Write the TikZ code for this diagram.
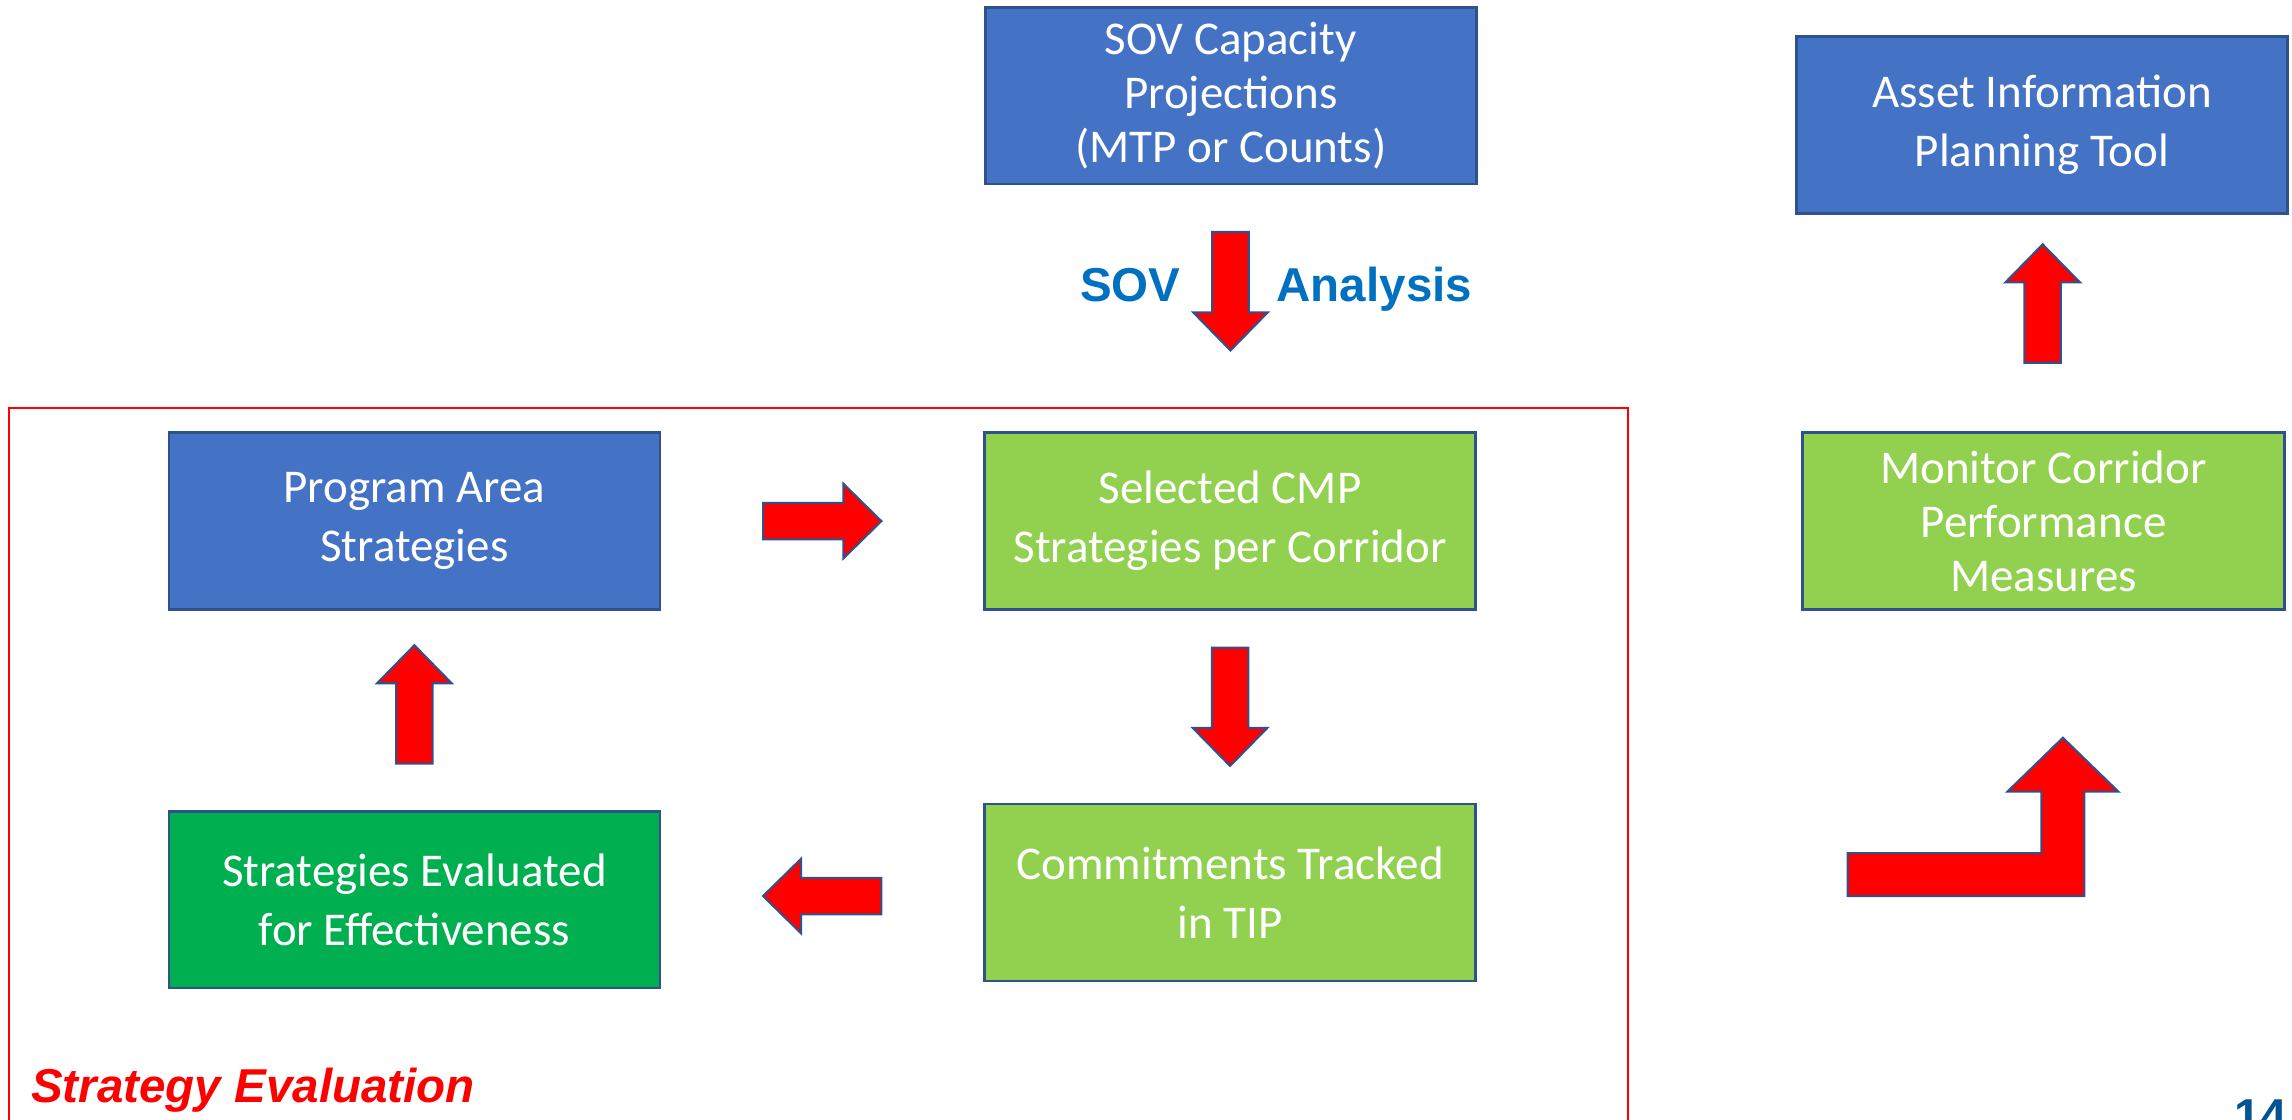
\documentclass[tikz,border=0pt]{standalone}
\usepackage{fontspec}
\setmainfont{Carlito}
\newfontfamily\arialfont{Liberation Sans}
\usepackage{tikz}
\usetikzlibrary{calc}

\definecolor{boxblue}{HTML}{4472C4}
\definecolor{boxline}{HTML}{2F528F}
\definecolor{lightgreen}{HTML}{92D050}
\definecolor{darkgreen}{HTML}{00B050}
\definecolor{lblblue}{HTML}{0070C0}
\definecolor{pageblue}{HTML}{005493}

\tikzset{
  stepbox/.style={draw=boxline,line width=1pt,text=white,align=center,
    minimum width=67.2mm,minimum height=24.2mm,inner sep=1mm,
    font=\fontsize{18.3}{23}\selectfont},
  bluebox/.style={stepbox,fill=boxblue},
  greenbox/.style={stepbox,fill=lightgreen},
  evalbox/.style={stepbox,fill=darkgreen},
  threeline/.style={font=\fontsize{18.3}{21}\selectfont},
  lbl/.style={inner sep=0,font=\arialfont\bfseries\fontsize{18.5}{22}\selectfont},
  blockarrow/.pic={
    \filldraw[fill=red,draw=boxline,line width=0.8pt] (-40.5,-12.5) -- (14.5,-12.5) -- (14.5,-25.5)
      -- (40.5,0) -- (14.5,25.5) -- (14.5,12.5) -- (-40.5,12.5) -- cycle;
  }
}

\begin{document}
\begin{tikzpicture}[x=0.2mm,y=-0.2mm]
    \useasboundingbox (0,0) rectangle (1568,766);
    % strategy evaluation frame
    \draw[red,line width=0.8pt] (6.4,790) -- (6.4,279.3) -- (1113.8,279.3) -- (1113.8,790);
    \node[lbl,text=red,font=\arialfont\bfseries\itshape\fontsize{18.5}{22}\selectfont,anchor=base west] (frametitle) at (21,754.4) {Strategy Evaluation};

    \node[bluebox,threeline] (sov) at (842,65.5) {SOV Capacity\\Projections\\(MTP or Counts)};
    \node[bluebox] (asset) at (1397,85.5) {Asset Information\\Planning Tool};
    \node[bluebox] (prog) at (283.5,356.5) {Program Area\\Strategies};
    \node[greenbox] (sel) at (841.5,356.5) {Selected CMP\\Strategies per Corridor};
    \node[greenbox] (commit) at (841.5,610.5) {Commitments Tracked\\in TIP};
    \node[evalbox] (eval) at (283.5,615.5) {Strategies Evaluated\\for Effectiveness};
    \node[greenbox,threeline,minimum width=66mm] (monitor) at (1398,356.5) {Monitor Corridor\\Performance\\Measures};

    \foreach \from/\to/\pos/\ang in {sov.south/sel.north/0.43/-90,prog.east/sel.west/0.5/0,
        sel.south/commit.north/0.5/-90,commit.west/eval.east/0.5/180,
        eval.north/prog.south/0.53/90,monitor.north/asset.south/0.59/90} {
      \pic[rotate=\ang] at ($(\from)!\pos!(\to)$) {blockarrow};
    }

    \node[lbl,text=lblblue,anchor=base east] (sovlbl) at (808,206.4) {SOV};
    \node[lbl,text=lblblue,anchor=base west] (analysislbl) at (873,206.4) {Analysis};

    % bent arrow up to the monitor box
    \filldraw[fill=red,draw=boxline,line width=0.8pt] (1264,613) -- (1426,613) -- (1426,541.6) -- (1449.25,541.6)
      -- (1411.25,504.7) -- (1373.25,541.6) -- (1396.5,541.6) -- (1396.5,583.6) -- (1264,583.6) -- cycle;

    \node[lbl,text=pageblue,anchor=base east] (pagenum) at (1565,775) {14};
\end{tikzpicture}
\end{document}
